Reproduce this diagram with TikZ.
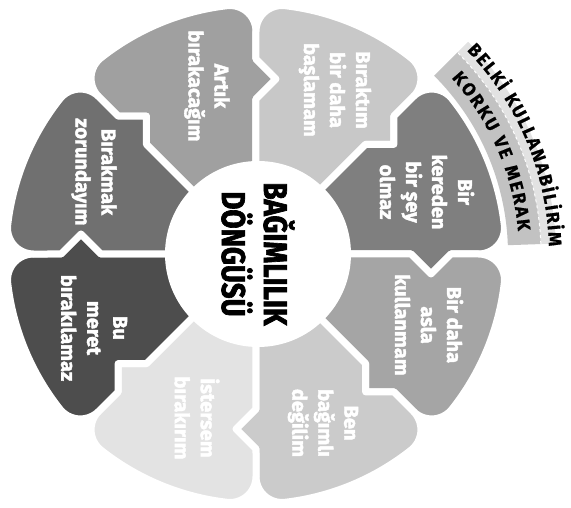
\documentclass[tikz,border=0pt]{standalone}
\usepackage{fontspec}
\setmainfont{Fira Sans}
\newfontfamily\darfont[FakeBold=2]{Fira Sans}
\newfontfamily\basfont[FakeStretch=0.84, FakeBold=2]{Fira Sans}
\newfontfamily\seritfont[FakeBold=0.8]{Fira Sans}
\usepackage{tikz}
\usetikzlibrary{calc, decorations.text}
\usepackage{xcolor}

\definecolor{gri1}{HTML}{A0A0A0}
\definecolor{gri2}{HTML}{C8C8C8}
\definecolor{gri3}{HTML}{7F7F7F}
\definecolor{gri4}{HTML}{A5A5A5}
\definecolor{gri5}{HTML}{CBCBCB}
\definecolor{gri6}{HTML}{E3E3E3}
\definecolor{gri7}{HTML}{4D4D4D}
\definecolor{gri8}{HTML}{707070}
\definecolor{serit}{HTML}{C2C2C2}
\definecolor{seritdis}{HTML}{E2E2E2}

\tikzset{
  dilimyazi/.style={rotate=-90, text=white, align=center,
    font=\darfont\bfseries\fontsize{20}{26}\selectfont},
  merkez/.style={circle, fill=white, minimum size=186pt, inner sep=0pt,
    rotate=-90, align=center, font=\basfont\bfseries\fontsize{33}{42}\selectfont}
}

\begin{document}
\begin{tikzpicture}[x=1pt, y=1pt]
    \useasboundingbox (-256,-254) rectangle (315,254);
    % Ölçüler
    \pgfmathsetmacro{\disr}{250}
    \pgfmathsetmacro{\koser}{26}
    \pgfmathsetmacro{\kosea}{asin(\koser/(\disr-\koser))}
    \pgfmathsetmacro{\tanr}{(\disr-\koser)*cos(\kosea)}
    \pgfmathsetmacro{\okr}{175}
    \pgfmathsetmacro{\okh}{20}
    \pgfmathsetmacro{\okd}{20}
    % Dilimler
    \foreach \ilk/\renk in {90/gri1, 45/gri2, 0/gri3, -45/gri4, -90/gri5, -135/gri6, 180/gri7, 135/gri8}{
        \pgfmathsetmacro{\son}{\ilk+45}
        \filldraw[fill=\renk, draw=white, line width=7pt, line join=round]
            (0,0) -- (\ilk:\okr-\okh) -- ($(\ilk:\okr)+(\ilk-90:\okd)$) -- (\ilk:\okr+\okh)
            -- (\ilk:\tanr) arc[start angle=\ilk-90, end angle=\ilk+\kosea, radius=\koser]
            arc[start angle=\ilk+\kosea, end angle=\son-\kosea, radius=\disr]
            arc[start angle=\son-\kosea, end angle=\son+90, radius=\koser]
            -- (\son:\okr+\okh) -- ($(\son:\okr)+(\son-90:\okd)$) -- (\son:\okr-\okh) -- cycle;
    }
    % Şerit
    \fill[seritdis] (2:285) arc[start angle=2, end angle=45, radius=285]
        -- (45:300) arc[start angle=45, end angle=2, radius=300] -- cycle;
    \fill[serit] (2:252) arc[start angle=2, end angle=45, radius=252]
        -- (45:285) arc[start angle=45, end angle=2, radius=285] -- cycle;
    \draw[white, dashed, line width=1pt] (2:285) arc[start angle=2, end angle=45, radius=285];
    \path[decorate, decoration={text along path, text align={fit to path},
        text={|\seritfont\bfseries\fontsize{18}{18}\selectfont|KORKU VE MERAK}}]
        (42:263) arc[start angle=42, end angle=5, radius=263];
    \path[decorate, decoration={text along path, text align={fit to path},
        text={|\seritfont\bfseries\fontsize{18}{18}\selectfont|BELKİ KULLANABİLİRİM}}]
        (44:293) arc[start angle=44, end angle=1.5, radius=293];
    % Merkez
    \node[merkez] (dongu) at (2,0) {BAĞIMLILIK\\DÖNGÜSÜ};
    % Yazılar
    \node[dilimyazi] (artik) at (-49,168) {Artık\\bırakacağım};
    \node[dilimyazi] (biraktim) at (79,164) {Bıraktım\\bir daha\\başlamam};
    \node[dilimyazi] (birkere) at (171,62) {Bir\\kereden\\bir şey\\olmaz};
    \node[dilimyazi] (birdaha) at (173,-71) {Bir daha\\asla\\kullanmam};
    \node[dilimyazi] (bagimli) at (67,-169) {Ben\\bağımlı\\değilim};
    \node[dilimyazi] (istersem) at (-59,-164) {İstersem\\bırakırım};
    \node[dilimyazi] (meret) at (-162,-74) {Bu\\meret\\bırakılamaz};
    \node[dilimyazi] (zorunda) at (-162,82) {Bırakmak\\zorundayım};
\end{tikzpicture}
\end{document}
